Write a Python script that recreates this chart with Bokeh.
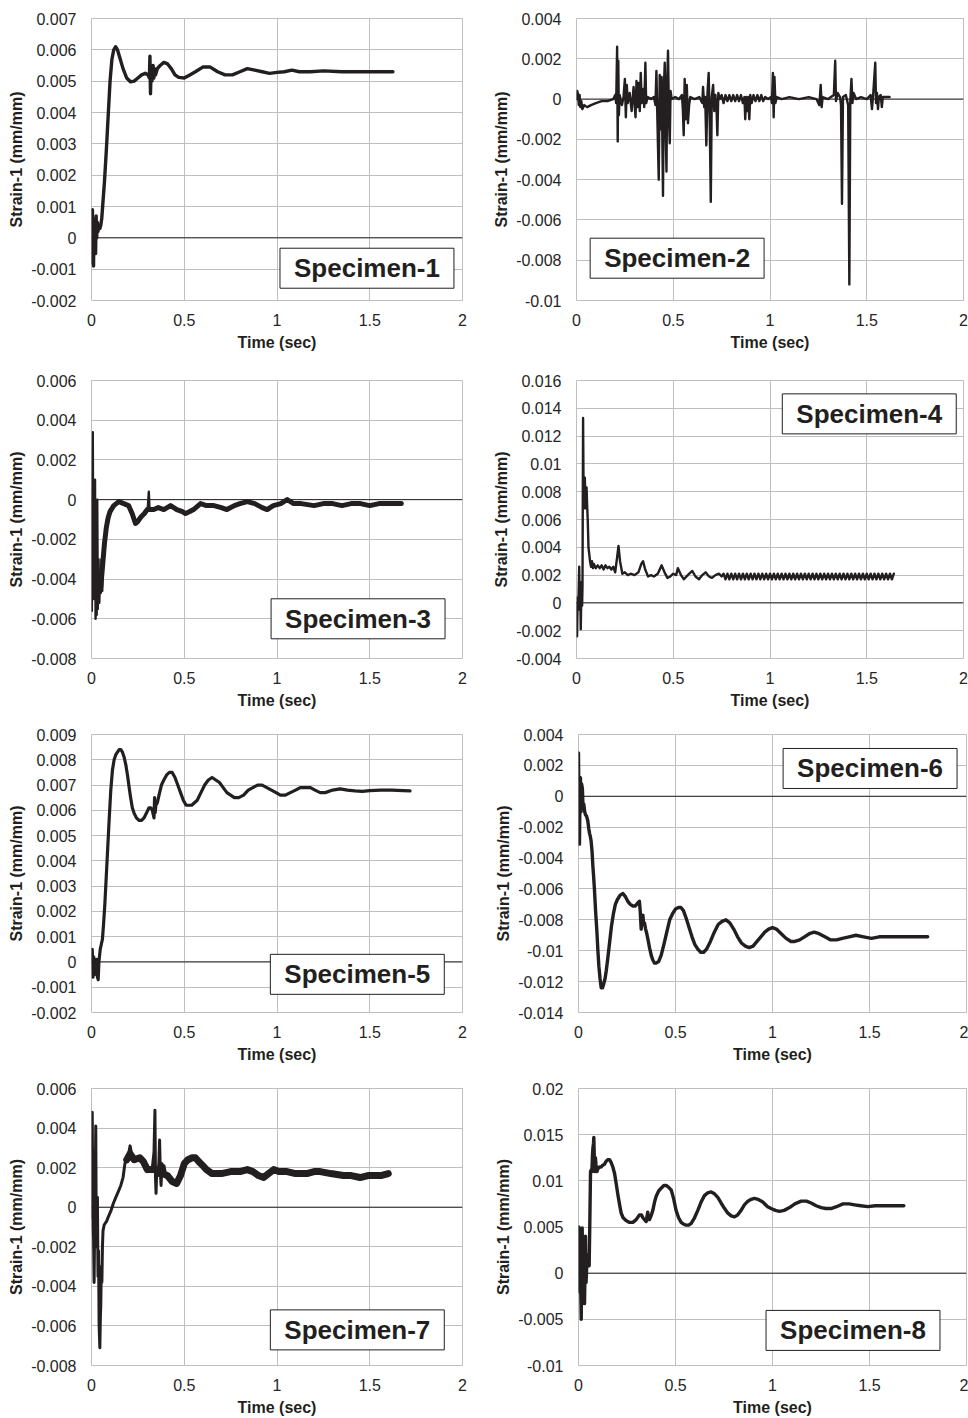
from bokeh.plotting import figure
from bokeh.layouts import column, row
from bokeh.models import FixedTicker, Span, Label, Range1d
from bokeh.embed import file_html
from bokeh.resources import INLINE

# ---------------- axis ticks ----------------
x_ticks = [0, 0.5, 1, 1.5, 2]
x_tick_labels = ["0", "0.5", "1", "1.5", "2"]

y1_ticks = [-0.002, -0.001, 0, 0.001, 0.002, 0.003, 0.004, 0.005, 0.006, 0.007]
y1_labels = ["-0.002", "-0.001", "0", "0.001", "0.002", "0.003", "0.004", "0.005", "0.006", "0.007"]
y2_ticks = [-0.01, -0.008, -0.006, -0.004, -0.002, 0, 0.002, 0.004]
y2_labels = ["-0.01", "-0.008", "-0.006", "-0.004", "-0.002", "0", "0.002", "0.004"]
y3_ticks = [-0.008, -0.006, -0.004, -0.002, 0, 0.002, 0.004, 0.006]
y3_labels = ["-0.008", "-0.006", "-0.004", "-0.002", "0", "0.002", "0.004", "0.006"]
y4_ticks = [-0.004, -0.002, 0, 0.002, 0.004, 0.006, 0.008, 0.01, 0.012, 0.014, 0.016]
y4_labels = ["-0.004", "-0.002", "0", "0.002", "0.004", "0.006", "0.008", "0.01", "0.012", "0.014", "0.016"]
y5_ticks = [-0.002, -0.001, 0, 0.001, 0.002, 0.003, 0.004, 0.005, 0.006, 0.007, 0.008, 0.009]
y5_labels = ["-0.002", "-0.001", "0", "0.001", "0.002", "0.003", "0.004", "0.005", "0.006", "0.007", "0.008", "0.009"]
y6_ticks = [-0.014, -0.012, -0.01, -0.008, -0.006, -0.004, -0.002, 0, 0.002, 0.004]
y6_labels = ["-0.014", "-0.012", "-0.01", "-0.008", "-0.006", "-0.004", "-0.002", "0", "0.002", "0.004"]
y7_ticks = [-0.008, -0.006, -0.004, -0.002, 0, 0.002, 0.004, 0.006]
y7_labels = ["-0.008", "-0.006", "-0.004", "-0.002", "0", "0.002", "0.004", "0.006"]
y8_ticks = [-0.01, -0.005, 0, 0.005, 0.01, 0.015, 0.02]
y8_labels = ["-0.01", "-0.005", "0", "0.005", "0.01", "0.015", "0.02"]

specimen_names = ["Specimen-1", "Specimen-2", "Specimen-3", "Specimen-4",
                  "Specimen-5", "Specimen-6", "Specimen-7", "Specimen-8"]

# ---------------- Specimen-1 ----------------
s1_time = [0.000, 0.003, 0.005, 0.007, 0.009, 0.011, 0.013, 0.016, 0.019, 0.022,
           0.025, 0.028, 0.031, 0.035, 0.040, 0.045, 0.050, 0.055, 0.060, 0.070,
           0.080, 0.090, 0.100, 0.110, 0.120, 0.130, 0.140, 0.150, 0.170, 0.190,
           0.210, 0.230, 0.250, 0.270, 0.290, 0.305, 0.312, 0.315, 0.318, 0.321,
           0.326, 0.332, 0.336, 0.340, 0.345, 0.355, 0.370, 0.390, 0.410, 0.430,
           0.450, 0.470, 0.500, 0.530, 0.560, 0.600, 0.640, 0.680, 0.720, 0.760,
           0.800, 0.840, 0.880, 0.920, 0.960, 1.000, 1.040, 1.080, 1.120, 1.180,
           1.250, 1.350, 1.450, 1.550, 1.625]
s1_strain = [0.0000, -0.0008, 0.0009, -0.0006, 0.0003, -0.0009, 0.0004, -0.0003, 0.0006, -0.0005,
             0.0007, 0.0000, 0.0005, 0.0002, 0.0004, 0.0003, 0.0004, 0.0006, 0.0010, 0.0018,
             0.0028, 0.0039, 0.0050, 0.0057, 0.0060, 0.0061, 0.0060, 0.0058, 0.0054, 0.0051,
             0.00498, 0.0050, 0.0051, 0.0052, 0.00525, 0.0052, 0.0051, 0.0058, 0.0046, 0.0053,
             0.0050, 0.0055, 0.0051, 0.0054, 0.0052, 0.0054, 0.0055, 0.0056, 0.00555, 0.0054,
             0.0052, 0.00512, 0.0051, 0.0052, 0.0053, 0.00545, 0.00545, 0.0053, 0.0052, 0.0052,
             0.0053, 0.0054, 0.00535, 0.0053, 0.00525, 0.00528, 0.0053, 0.00535, 0.0053, 0.0053,
             0.00533, 0.0053, 0.0053, 0.0053, 0.0053]

# ---------------- Specimen-2 ----------------
s2_time = [0.000, 0.004, 0.008, 0.012, 0.016, 0.020, 0.025, 0.030, 0.040, 0.055,
           0.075, 0.100, 0.130, 0.160, 0.190, 0.200, 0.205, 0.210, 0.213, 0.216,
           0.219, 0.223, 0.235, 0.243, 0.250, 0.255, 0.260, 0.265, 0.275, 0.285,
           0.295, 0.305, 0.310, 0.315, 0.322, 0.327, 0.332, 0.337, 0.345, 0.350,
           0.356, 0.360, 0.368, 0.385, 0.400, 0.408, 0.413, 0.418, 0.425, 0.430,
           0.435, 0.440, 0.447, 0.451, 0.456, 0.460, 0.465, 0.469, 0.473, 0.478,
           0.482, 0.486, 0.492, 0.510, 0.530, 0.545, 0.550, 0.554, 0.559, 0.564,
           0.570, 0.576, 0.582, 0.588, 0.610, 0.635, 0.650, 0.654, 0.660, 0.665,
           0.671, 0.677, 0.683, 0.688, 0.694, 0.699, 0.706, 0.712, 0.718, 0.724,
           0.728, 0.733, 0.740, 0.750, 0.760, 0.770, 0.780, 0.790, 0.800, 0.810,
           0.820, 0.830, 0.840, 0.850, 0.860, 0.868, 0.872, 0.877, 0.882, 0.888,
           0.893, 0.898, 0.905, 0.915, 0.925, 0.935, 0.945, 0.955, 0.965, 0.975,
           0.990, 1.005, 1.010, 1.015, 1.019, 1.023, 1.028, 1.035, 1.060, 1.100,
           1.150, 1.200, 1.240, 1.255, 1.262, 1.267, 1.272, 1.300, 1.330, 1.337,
           1.341, 1.350, 1.362, 1.367, 1.372, 1.377, 1.392, 1.404, 1.410, 1.415,
           1.421, 1.426, 1.432, 1.445, 1.470, 1.500, 1.520, 1.527, 1.533, 1.544,
           1.548, 1.553, 1.558, 1.563, 1.572, 1.578, 1.583, 1.600, 1.618]
s2_strain = [0.0000, 0.0004, 0.0002, -0.0003, 0.0002, -0.0004, -0.0001, -0.0005, -0.0003, -0.0004,
             -0.0003, -0.0002, -0.0001, -0.0001, 0.0000, 0.0002, -0.0002, 0.0026, -0.0021, 0.0019,
             -0.0008, 0.0002, -0.0003, 0.0001, 0.0010, -0.0009, 0.0007, -0.0002, 0.0003, -0.0006,
             0.0006, -0.0009, 0.0009, -0.0004, 0.0008, -0.0006, 0.0013, -0.0002, 0.0005, -0.0004,
             0.0018, -0.0002, 0.0001, 0.0000, 0.0001, -0.0003, 0.0014, -0.0010, -0.0040, 0.0012,
             -0.0015, 0.0011, -0.0048, 0.0004, 0.0018, -0.0012, -0.0036, 0.0010, 0.0024, -0.0010,
             -0.0022, 0.0004, 0.0000, 0.0001, 0.0000, 0.0002, -0.0006, -0.0018, 0.0010, -0.0010,
             0.0007, -0.0012, -0.0003, 0.0001, 0.0000, 0.0001, -0.0002, 0.0006, -0.0004, 0.0001,
             -0.0023, 0.0003, 0.0013, -0.0008, -0.0051, 0.0001, 0.0007, -0.0006, 0.0002, -0.0006,
             -0.0018, 0.0003, 0.0000, 0.0002, -0.0002, 0.0002, -0.0001, 0.0002, -0.0001, 0.0002,
             -0.0001, 0.0002, -0.0001, 0.0002, -0.0002, 0.0001, -0.0010, 0.0001, -0.0006, 0.0001,
             -0.0010, 0.0002, -0.0002, 0.0002, -0.0001, 0.0002, -0.0001, 0.0002, -0.0001, 0.0001,
             0.0000, 0.0001, -0.0002, 0.0013, -0.0009, 0.0011, -0.0002, 0.0001, 0.0000, 0.0001,
             0.0000, 0.0001, 0.0000, -0.0003, 0.0007, -0.0004, 0.0001, 0.0000, 0.0002, 0.0019,
             -0.0001, 0.0003, 0.0001, -0.0003, -0.0052, 0.0001, 0.0002, -0.0003, -0.0092, -0.0001,
             0.0010, -0.0002, 0.0003, 0.0000, 0.0001, 0.0000, 0.0002, -0.0005, 0.0002, 0.0018,
             -0.0002, 0.0003, -0.0005, 0.0001, 0.0002, -0.0004, 0.0001, 0.0001, 0.0001]

# ---------------- Specimen-3 ----------------
s3_spike_time = [0.000, 0.002, 0.005, 0.007, 0.010, 0.013, 0.016, 0.019, 0.022, 0.025,
                 0.028, 0.031, 0.034, 0.038, 0.042, 0.046, 0.050, 0.054, 0.058, 0.063,
                 0.070, 0.080, 0.090, 0.100, 0.120, 0.147, 0.174, 0.200, 0.219, 0.237,
                 0.264, 0.290, 0.303, 0.309, 0.313, 0.325]
s3_spike_strain = [0.0005, -0.0056, 0.0020, 0.0034, -0.0050, 0.0008, -0.0045, 0.0010, -0.0060, -0.0020,
                   -0.0058, 0.0000, -0.0055, -0.0030, -0.0052, -0.0040, -0.0047, -0.0030, -0.0046, -0.0026,
                   -0.0020, -0.0014, -0.0009, -0.0005, -0.0003, -0.0001, -0.0002, -0.0003, -0.0007, -0.0012,
                   -0.0009, -0.0006, -0.0005, 0.0004, -0.0005, -0.0005]
s3_band_time = [0.050, 0.060, 0.070, 0.080, 0.090, 0.100, 0.120, 0.147, 0.174, 0.200,
                0.219, 0.237, 0.250, 0.264, 0.285, 0.300, 0.320, 0.336, 0.360, 0.390,
                0.426, 0.460, 0.490, 0.507, 0.530, 0.550, 0.588, 0.620, 0.660, 0.700,
                0.730, 0.770, 0.800, 0.840, 0.880, 0.920, 0.947, 0.980, 1.020, 1.055,
                1.090, 1.130, 1.200, 1.250, 1.300, 1.350, 1.400, 1.450, 1.500, 1.550,
                1.600, 1.640, 1.670]
s3_band_strain = [-0.0044, -0.0033, -0.0022, -0.0014, -0.0009, -0.0006, -0.0003, -0.0001, -0.0002, -0.0003,
                  -0.0007, -0.0012, -0.0011, -0.0009, -0.0007, -0.0005, -0.0005, -0.0005, -0.0004, -0.0005,
                  -0.0003, -0.0005, -0.0006, -0.0007, -0.0006, -0.0005, -0.0002, -0.0003, -0.0003, -0.0004,
                  -0.0005, -0.0003, -0.0002, -0.0001, -0.0002, -0.0004, -0.0005, -0.0003, -0.0002, 0.0000,
                  -0.0002, -0.0002, -0.0003, -0.0002, -0.0002, -0.0003, -0.0002, -0.0002, -0.0003, -0.0002,
                  -0.0002, -0.0002, -0.0002]

# ---------------- Specimen-4 ----------------
s4_time = [0.000, 0.003, 0.006, 0.009, 0.014, 0.017, 0.020, 0.022, 0.026, 0.029,
           0.031, 0.034, 0.037, 0.040, 0.043, 0.046, 0.049, 0.052, 0.055, 0.058,
           0.062, 0.066, 0.070, 0.075, 0.080, 0.085, 0.090, 0.100, 0.110, 0.120,
           0.130, 0.140, 0.150, 0.160, 0.170, 0.180, 0.190, 0.200, 0.210, 0.217,
           0.225, 0.237, 0.250, 0.265, 0.280, 0.300, 0.320, 0.335, 0.344, 0.355,
           0.370, 0.385, 0.400, 0.420, 0.440, 0.455, 0.470, 0.485, 0.500, 0.515,
           0.524, 0.540, 0.555, 0.575, 0.598, 0.615, 0.633, 0.650, 0.667, 0.685,
           0.700, 0.718, 0.736, 0.750,
           0.76, 0.77, 0.78, 0.79, 0.80, 0.81, 0.82, 0.83, 0.84, 0.85,
           0.86, 0.87, 0.88, 0.89, 0.90, 0.91, 0.92, 0.93, 0.94, 0.95,
           0.96, 0.97, 0.98, 0.99, 1.00, 1.01, 1.02, 1.03, 1.04, 1.05,
           1.06, 1.07, 1.08, 1.09, 1.10, 1.11, 1.12, 1.13, 1.14, 1.15,
           1.16, 1.17, 1.18, 1.19, 1.20, 1.21, 1.22, 1.23, 1.24, 1.25,
           1.26, 1.27, 1.28, 1.29, 1.30, 1.31, 1.32, 1.33, 1.34, 1.35,
           1.36, 1.37, 1.38, 1.39, 1.40, 1.41, 1.42, 1.43, 1.44, 1.45,
           1.46, 1.47, 1.48, 1.49, 1.50, 1.51, 1.52, 1.53, 1.54, 1.55,
           1.56, 1.57, 1.58, 1.59, 1.60, 1.61, 1.62, 1.63, 1.64]
s4_strain = [0.0000, -0.0024, 0.0004, -0.0005, 0.0026, -0.0004, 0.0003, -0.0019, 0.0015, -0.0002,
             0.0012, 0.0133, 0.0070, 0.0068, 0.0090, 0.0075, 0.0068, 0.0083, 0.0070, 0.0060,
             0.0040, 0.0035, 0.0030, 0.0026, 0.0030, 0.0025, 0.0028, 0.0025, 0.0027, 0.0025,
             0.0027, 0.0024, 0.0027, 0.0025, 0.0026, 0.0024, 0.0026, 0.0022, 0.0033, 0.0041,
             0.0030, 0.0021, 0.0022, 0.0020, 0.0021, 0.0020, 0.0022, 0.0028, 0.0030, 0.0024,
             0.0019, 0.0020, 0.0019, 0.0021, 0.0027, 0.0022, 0.0018, 0.0019, 0.0021, 0.0020,
             0.0025, 0.0020, 0.0017, 0.0020, 0.0023, 0.0019, 0.0017, 0.0020, 0.0022, 0.0019,
             0.0018, 0.0020, 0.0021, 0.0019,
             0.0021, 0.0017, 0.0021, 0.0017, 0.0021, 0.0017, 0.0021, 0.0017, 0.0021, 0.0017,
             0.0021, 0.0017, 0.0021, 0.0017, 0.0021, 0.0017, 0.0021, 0.0017, 0.0021, 0.0017,
             0.0021, 0.0017, 0.0021, 0.0017, 0.0021, 0.0017, 0.0021, 0.0017, 0.0021, 0.0017,
             0.0021, 0.0017, 0.0021, 0.0017, 0.0021, 0.0017, 0.0021, 0.0017, 0.0021, 0.0017,
             0.0021, 0.0017, 0.0021, 0.0017, 0.0021, 0.0017, 0.0021, 0.0017, 0.0021, 0.0017,
             0.0021, 0.0017, 0.0021, 0.0017, 0.0021, 0.0017, 0.0021, 0.0017, 0.0021, 0.0017,
             0.0021, 0.0017, 0.0021, 0.0017, 0.0021, 0.0017, 0.0021, 0.0017, 0.0021, 0.0017,
             0.0021, 0.0017, 0.0021, 0.0017, 0.0021, 0.0017, 0.0021, 0.0017, 0.0021, 0.0017,
             0.0021, 0.0017, 0.0021, 0.0017, 0.0021, 0.0017, 0.0021, 0.0017, 0.0021]

# ---------------- Specimen-5 ----------------
s5_time = [0.000, 0.004, 0.008, 0.012, 0.016, 0.020, 0.024, 0.028, 0.032, 0.036,
           0.040, 0.047, 0.053, 0.059, 0.065, 0.072, 0.079, 0.086, 0.095, 0.104,
           0.113, 0.122, 0.131, 0.140, 0.149, 0.158, 0.167, 0.176, 0.185, 0.194,
           0.203, 0.211, 0.220, 0.229, 0.242, 0.256, 0.270, 0.283, 0.297, 0.310,
           0.320, 0.328, 0.334, 0.337, 0.340, 0.343, 0.347, 0.355, 0.364, 0.377,
           0.390, 0.405, 0.420, 0.435, 0.450, 0.465, 0.480, 0.495, 0.510, 0.525,
           0.540, 0.555, 0.570, 0.590, 0.610, 0.630, 0.650, 0.670, 0.690, 0.710,
           0.730, 0.750, 0.770, 0.794, 0.820, 0.845, 0.870, 0.895, 0.920, 0.945,
           0.970, 0.995, 1.018, 1.045, 1.072, 1.100, 1.125, 1.150, 1.180, 1.205,
           1.233, 1.260, 1.300, 1.340, 1.380, 1.420, 1.460, 1.500, 1.560, 1.620,
           1.680, 1.717]
s5_strain = [0.0000, 0.0005, -0.0006, 0.0002, -0.0005, 0.0001, -0.0003, 0.0001, -0.0006, -0.0007,
             0.0000, 0.0005, 0.0007, 0.0009, 0.0015, 0.0023, 0.0033, 0.0043, 0.0056, 0.0068,
             0.0076, 0.0080, 0.0082, 0.0083, 0.0084, 0.0084, 0.0083, 0.0081, 0.0078, 0.0074,
             0.0069, 0.0065, 0.0061, 0.0059, 0.0057, 0.0056, 0.0056, 0.0057, 0.0059, 0.0061,
             0.0061, 0.0060, 0.0058, 0.0057, 0.0065, 0.0059, 0.0062, 0.0063, 0.0066, 0.0070,
             0.0072, 0.0074, 0.0075, 0.0075, 0.0073, 0.0070, 0.0067, 0.0064, 0.0062, 0.0062,
             0.0062, 0.0063, 0.0064, 0.0067, 0.0070, 0.0072, 0.0073, 0.0072, 0.0071, 0.0069,
             0.0067, 0.0066, 0.0065, 0.0065, 0.0066, 0.0068, 0.0069, 0.0070, 0.0070, 0.0069,
             0.0068, 0.0067, 0.0066, 0.0066, 0.0067, 0.0068, 0.0069, 0.0069, 0.0069, 0.0068,
             0.0067, 0.0067, 0.0068, 0.00685, 0.0068, 0.00677, 0.00675, 0.00678, 0.0068, 0.0068,
             0.00678, 0.00677]

# ---------------- Specimen-6 ----------------
s6_time = [0.000, 0.002, 0.005, 0.008, 0.010, 0.013, 0.016, 0.020, 0.023, 0.027,
           0.032, 0.036, 0.042, 0.048, 0.053, 0.057, 0.061, 0.065, 0.070, 0.074,
           0.078, 0.082, 0.088, 0.095, 0.100, 0.105, 0.111, 0.117, 0.124, 0.131,
           0.137, 0.143, 0.150, 0.160, 0.170, 0.180, 0.190, 0.200, 0.215, 0.229,
           0.242, 0.254, 0.267, 0.280, 0.293, 0.306, 0.314, 0.318, 0.323, 0.327,
           0.332, 0.336, 0.340, 0.346, 0.352, 0.360, 0.366, 0.375, 0.383, 0.392,
           0.400, 0.413, 0.426, 0.440, 0.455, 0.470, 0.485, 0.500, 0.515, 0.528,
           0.541, 0.555, 0.570, 0.585, 0.600, 0.615, 0.630, 0.645, 0.660, 0.680,
           0.700, 0.720, 0.740, 0.760, 0.780, 0.800, 0.820, 0.840, 0.860, 0.880,
           0.900, 0.920, 0.940, 0.960, 0.980, 1.000, 1.020, 1.045, 1.070, 1.095,
           1.115, 1.140, 1.165, 1.190, 1.215, 1.240, 1.270, 1.300, 1.330, 1.360,
           1.395, 1.430, 1.470, 1.510, 1.550, 1.600, 1.650, 1.700, 1.750, 1.800]
s6_strain = [0.0028, -0.0008, -0.0031, 0.0003, 0.0012, -0.0010, 0.0008, 0.0005, -0.0006, -0.0005,
             -0.0010, -0.0012, -0.0013, -0.0016, -0.0021, -0.0024, -0.0026, -0.0029, -0.0036, -0.0045,
             -0.0052, -0.0060, -0.0074, -0.0088, -0.0100, -0.0110, -0.0118, -0.0124, -0.0124, -0.0121,
             -0.0118, -0.0113, -0.0106, -0.0095, -0.0084, -0.0076, -0.0070, -0.0067, -0.0064, -0.0063,
             -0.0065, -0.0068, -0.0070, -0.0071, -0.0071, -0.0069, -0.0068, -0.0074, -0.0086, -0.0078,
             -0.0077, -0.0083, -0.0082, -0.0086, -0.0089, -0.0094, -0.0098, -0.0103, -0.0106, -0.0108,
             -0.0108, -0.0107, -0.0103, -0.0096, -0.0088, -0.0080, -0.0076, -0.0073, -0.0072, -0.0072,
             -0.0074, -0.0079, -0.0085, -0.0091, -0.0096, -0.0099, -0.0101, -0.0101, -0.0099, -0.0094,
             -0.0088, -0.0083, -0.0081, -0.0080, -0.0082, -0.0086, -0.0091, -0.0095, -0.0097, -0.0098,
             -0.0097, -0.0094, -0.0091, -0.0088, -0.0086, -0.0085, -0.0086, -0.0089, -0.0092, -0.0094,
             -0.0094, -0.0093, -0.0091, -0.0089, -0.0088, -0.0089, -0.0091, -0.0093, -0.0093, -0.0092,
             -0.0091, -0.0090, -0.0091, -0.0092, -0.0091, -0.0091, -0.0091, -0.0091, -0.0091, -0.0091]

# ---------------- Specimen-7 ----------------
s7_spike_time = [0.000, 0.004, 0.008, 0.011, 0.014, 0.017, 0.020, 0.023, 0.026, 0.029,
                 0.032, 0.035, 0.038, 0.041, 0.045, 0.048, 0.050, 0.053, 0.056, 0.059,
                 0.062, 0.068, 0.075, 0.082, 0.090, 0.104, 0.118, 0.131, 0.145, 0.158,
                 0.170, 0.180, 0.190, 0.200, 0.208, 0.220, 0.247, 0.274, 0.301, 0.328,
                 0.337, 0.342, 0.345, 0.348, 0.352, 0.358, 0.363, 0.367, 0.371, 0.375,
                 0.380, 0.385, 0.391, 0.400]
s7_spike_strain = [-0.0005, 0.0048, -0.0010, -0.0015, -0.0038, -0.0010, 0.0010, 0.0041, -0.0020, -0.0005,
                   0.0005, -0.0035, -0.0022, -0.0060, -0.0071, -0.0055, -0.0050, -0.0030, -0.0038, -0.0020,
                   -0.0012, -0.0009, -0.0008, -0.0007, -0.0005, -0.0002, 0.0002, 0.0005, 0.0008, 0.0011,
                   0.0015, 0.0022, 0.0025, 0.0027, 0.0031, 0.0025, 0.0025, 0.0024, 0.0018, 0.0020,
                   0.0028, 0.0049, 0.0015, 0.0007, 0.0020, 0.0016, 0.0022, 0.0034, 0.0018, 0.0011,
                   0.0022, 0.0018, 0.0021, 0.0016]
s7_band_time = [0.190, 0.208, 0.230, 0.260, 0.280, 0.301, 0.320, 0.340, 0.360, 0.380,
                0.409, 0.435, 0.459, 0.480, 0.500, 0.520, 0.543, 0.560, 0.579, 0.600,
                0.620, 0.650, 0.700, 0.750, 0.800, 0.840, 0.870, 0.900, 0.928, 0.955,
                0.982, 1.010, 1.054, 1.100, 1.161, 1.200, 1.233, 1.290, 1.358, 1.400,
                1.448, 1.490, 1.520, 1.560, 1.600]
s7_band_strain = [0.0024, 0.0027, 0.0024, 0.0025, 0.0023, 0.0019, 0.0019, 0.0019, 0.0019, 0.0017,
                  0.0016, 0.0013, 0.0012, 0.0016, 0.0022, 0.0024, 0.0025, 0.0025, 0.0023, 0.0021,
                  0.0019, 0.0017, 0.0017, 0.0018, 0.0018, 0.0019, 0.0018, 0.0016, 0.0015, 0.0017,
                  0.0019, 0.0018, 0.0018, 0.0017, 0.0017, 0.0018, 0.0018, 0.0017, 0.0016, 0.0016,
                  0.0015, 0.0016, 0.0016, 0.0016, 0.0017]

# ---------------- Specimen-8 ----------------
s8_time = [0.000, 0.002, 0.005, 0.008, 0.011, 0.014, 0.017, 0.019, 0.022, 0.024,
           0.027, 0.031, 0.034, 0.036, 0.039, 0.041, 0.045, 0.048, 0.052, 0.055,
           0.058, 0.062, 0.066, 0.069, 0.072, 0.074, 0.077, 0.079, 0.082, 0.084,
           0.087, 0.090, 0.095, 0.100, 0.108, 0.117, 0.125, 0.134, 0.142, 0.151,
           0.160, 0.168, 0.177, 0.186, 0.195, 0.203, 0.212, 0.220, 0.230, 0.245,
           0.263, 0.280, 0.297, 0.314, 0.325, 0.332, 0.340, 0.349, 0.353, 0.357,
           0.361, 0.366, 0.374, 0.383, 0.392, 0.400, 0.413, 0.426, 0.440, 0.452,
           0.465, 0.478, 0.490, 0.503, 0.516, 0.529, 0.542, 0.555, 0.568, 0.581,
           0.598, 0.615, 0.632, 0.649, 0.666, 0.684, 0.701, 0.718, 0.735, 0.753,
           0.770, 0.787, 0.804, 0.820, 0.838, 0.855, 0.873, 0.890, 0.907, 0.925,
           0.950, 0.975, 0.993, 1.015, 1.036, 1.060, 1.088, 1.115, 1.148, 1.175,
           1.199, 1.225, 1.251, 1.275, 1.302, 1.330, 1.363, 1.395, 1.423, 1.455,
           1.491, 1.530, 1.577, 1.620, 1.677]
s8_strain = [-0.0015, 0.0050, -0.0020, 0.0040, -0.0010, -0.0050, 0.0010, 0.0049, -0.0005, -0.0020,
             0.0030, -0.0033, 0.0010, 0.0040, -0.0010, 0.0000, 0.0020, 0.0015, 0.0010, 0.0008,
             0.0050, 0.0110, 0.0112, 0.0110, 0.0128, 0.0135, 0.0140, 0.0147, 0.0120, 0.0110,
             0.0125, 0.0118, 0.0110, 0.0113, 0.0115, 0.0115, 0.0117, 0.0118, 0.0121, 0.0123,
             0.0123, 0.0120, 0.0115, 0.0108, 0.0096, 0.0085, 0.0074, 0.0065, 0.0060, 0.0057,
             0.0055, 0.0055, 0.0058, 0.0063, 0.0063, 0.0060, 0.0058, 0.0056, 0.0061, 0.0066,
             0.0060, 0.0058, 0.0062, 0.0068, 0.0077, 0.0083, 0.0089, 0.0092, 0.0095, 0.0095,
             0.0093, 0.0090, 0.0081, 0.0068, 0.0060, 0.0055, 0.0053, 0.0052, 0.0052, 0.0054,
             0.0060, 0.0068, 0.0077, 0.0084, 0.0087, 0.0088, 0.0086, 0.0082, 0.0076, 0.0070,
             0.0065, 0.0062, 0.0061, 0.0063, 0.0068, 0.0074, 0.0078, 0.0080, 0.0081, 0.0080,
             0.0077, 0.0072, 0.0070, 0.0068, 0.0067, 0.0068, 0.0071, 0.0075, 0.0078, 0.0078,
             0.0076, 0.0073, 0.0071, 0.0070, 0.0070, 0.0072, 0.0075, 0.0075, 0.0074, 0.0073,
             0.0072, 0.0073, 0.0073, 0.0073, 0.0073]

# ---------------- styling ----------------
FONT = "Liberation Sans"
INK = "#231f20"
GRID = "#bfbfbf"
TICK_INK = "#262626"


def panel(yticks, ylabels, series, name, name_xy, width, height, bl, br, bt, bb):
    p = figure(width=width, height=height,
               x_range=Range1d(x_ticks[0], x_ticks[-1]),
               y_range=Range1d(yticks[0], yticks[-1]),
               output_backend="svg", toolbar_location=None,
               min_border_left=bl, min_border_right=br,
               min_border_top=bt, min_border_bottom=bb,
               x_axis_label="Time (sec)", y_axis_label="Strain-1 (mm/mm)")
    p.xaxis.ticker = FixedTicker(ticks=x_ticks)
    p.xaxis.major_label_overrides = dict(zip(x_ticks, x_tick_labels))
    p.yaxis.ticker = FixedTicker(ticks=yticks)
    p.yaxis.major_label_overrides = dict(zip(yticks, ylabels))
    for ax in p.axis:
        ax.axis_line_color = None
        ax.major_tick_line_color = None
        ax.minor_tick_line_color = None
        ax.major_tick_out = 0
        ax.major_tick_in = 0
        ax.minor_tick_out = 0
        ax.minor_tick_in = 0
        ax.major_label_text_font = FONT
        ax.major_label_text_font_size = "16px"
        ax.major_label_text_color = TICK_INK
        ax.axis_label_text_font = FONT
        ax.axis_label_text_font_size = "16px"
        ax.axis_label_text_font_style = "bold"
        ax.axis_label_text_color = INK
    p.xaxis.major_label_standoff = 13
    p.yaxis.major_label_standoff = 15
    p.xaxis.axis_label_standoff = 5
    p.yaxis.axis_label_standoff = 3
    p.grid.grid_line_color = GRID
    p.grid.grid_line_width = 1
    p.outline_line_color = GRID
    p.background_fill_color = "white"
    p.border_fill_color = "white"
    p.add_layout(Span(location=0, dimension="width", line_color=INK, line_width=1))
    for t, v, lw in series:
        p.line(t, v, line_color=INK, line_width=lw, line_join="round", line_cap="round")
    p.add_layout(Label(x=name_xy[0], y=name_xy[1], text=name,
                       text_align="center", text_baseline="middle",
                       text_font=FONT, text_font_style="bold", text_font_size="26px",
                       text_color=INK, background_fill_color="white",
                       border_line_color=INK, border_line_width=1,
                       padding=(14, 5)))
    return p


p1 = panel(y1_ticks, y1_labels, [(s1_time, s1_strain, 3.4)], specimen_names[0], (1.485, -0.00097),
           484, 362, 91, 22, 18, 62)
p2 = panel(y2_ticks, y2_labels, [(s2_time, s2_strain, 2.4)], specimen_names[1], (0.52, -0.0079),
           484, 362, 92, 5, 18, 62)
p3 = panel(y3_ticks, y3_labels, [(s3_spike_time, s3_spike_strain, 2.4), (s3_band_time, s3_band_strain, 5)],
           specimen_names[2], (1.437, -0.0060), 484, 355, 91, 22, 18, 59)
p4 = panel(y4_ticks, y4_labels, [(s4_time, s4_strain, 2.4)], specimen_names[3], (1.513, 0.0136),
           484, 355, 92, 5, 18, 59)
p5 = panel(y5_ticks, y5_labels, [(s5_time, s5_strain, 3.2)], specimen_names[4], (1.433, -0.00049),
           484, 355, 91, 22, 17, 60)
p6 = panel(y6_ticks, y6_labels, [(s6_time, s6_strain, 3.4)], specimen_names[5], (1.503, 0.0018),
           484, 355, 94, 2, 17, 60)
p7 = panel(y7_ticks, y7_labels, [(s7_spike_time, s7_spike_strain, 3), (s7_band_time, s7_band_strain, 7)],
           specimen_names[6], (1.433, -0.0062), 484, 346, 91, 22, 16, 51)
p8 = panel(y8_ticks, y8_labels, [(s8_time, s8_strain, 3.4)], specimen_names[7], (1.415, -0.0062),
           484, 346, 94, 2, 16, 51)

layout = column(row(p1, p2), row(p3, p4), row(p5, p6), row(p7, p8))

open("out.html", "w").write(file_html(layout, INLINE))
